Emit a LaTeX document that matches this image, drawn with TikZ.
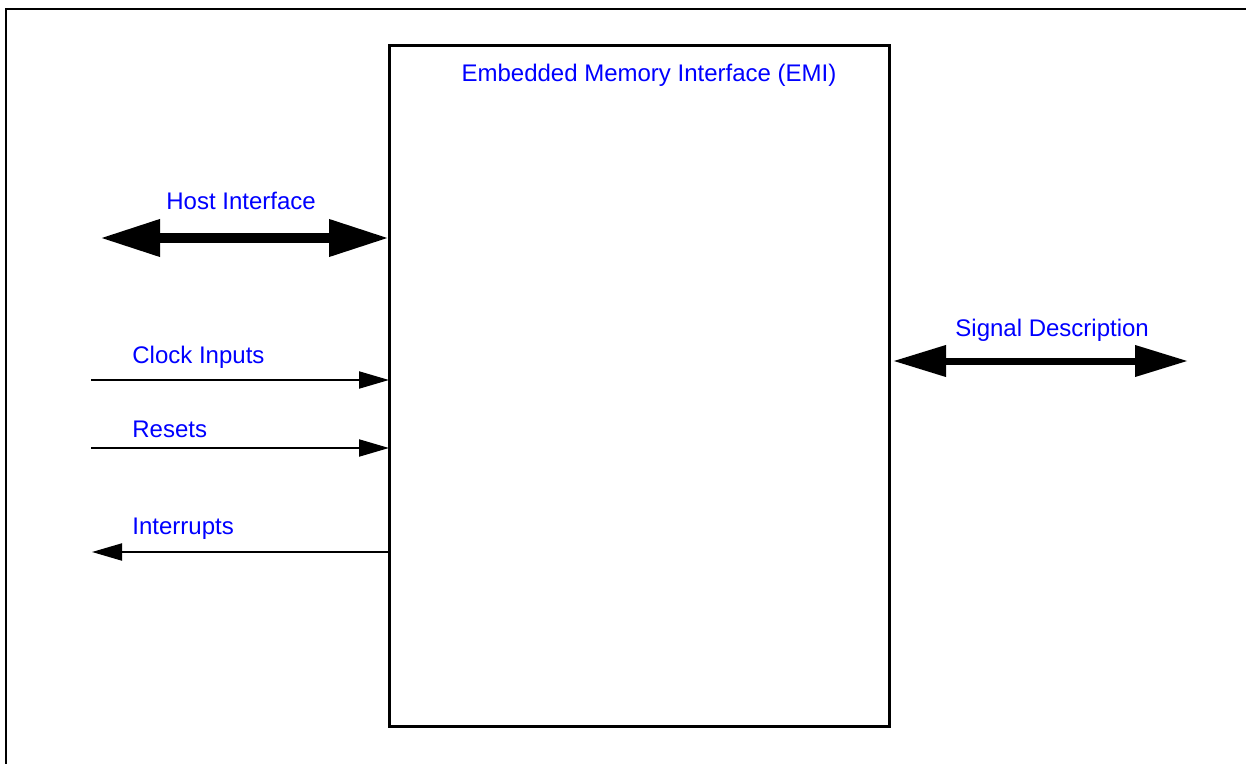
\documentclass[tikz,border=0pt]{standalone}
\usepackage{fontspec}
\setmainfont{Liberation Sans}
\usetikzlibrary{positioning,calc,arrows.meta}
\tikzset{emibox/.style={draw, line width=1.5pt, minimum width=250pt, minimum height=340pt, inner sep=0pt, outer sep=0pt}}
\tikzset{sig/.style={text=blue, font=\fontsize{12}{14}\selectfont, inner sep=0pt, anchor=base west}}
\tikzset{bus/.style={draw, line width=5pt, {Triangle[length=30pt,width=17.5pt]}-{Triangle[length=30pt,width=17.5pt]}}}
\tikzset{bus1/.style={draw, line width=3.5pt, {Triangle[length=26.5pt,width=15pt]}-{Triangle[length=26.5pt,width=15pt]}}}
\tikzset{wire/.style={draw, line width=1pt, -{Triangle[length=15pt,width=8.5pt]}}}

\begin{document}
\begin{tikzpicture}[x=0.5pt, y=-0.5pt]
	\useasboundingbox (0,0) rectangle (1246,764);
	\clip (0,0) rectangle (1246,764);
	\draw[line width=1pt] (6,9) rectangle (1270,790);
	\node[emibox] (emi) at (639,386) {};
	\node[sig, anchor=base] (title) at (649,82) {Embedded Memory Interface (EMI)};
	% left side
	\coordinate (hostL) at (100,238);
	\coordinate (clkL) at (91,380);
	\coordinate (rstL) at (91,448);
	\coordinate (irqL) at (92,552);
	\draw[bus] (hostL) -- (emi.west |- hostL);
	\draw[wire] (clkL) -- (emi.west |- clkL);
	\draw[wire] (rstL) -- (emi.west |- rstL);
	\draw[wire] (emi.west |- irqL) -- (irqL);
	\node[sig] (host) at (166,209.5) {Host Interface};
	\node[sig] (clk) at (132,364) {Clock Inputs};
	\node[sig] (rst) at (132,437) {Resets};
	\node[sig] (irq) at (132,534) {Interrupts};
	% right side
	\coordinate (sigR) at (1188,361);
	\draw[bus1] (emi.east |- sigR) ++(4,0) -- (sigR);
	\node[sig] (desc) at (955,336) {Signal Description};
\end{tikzpicture}
\end{document}
